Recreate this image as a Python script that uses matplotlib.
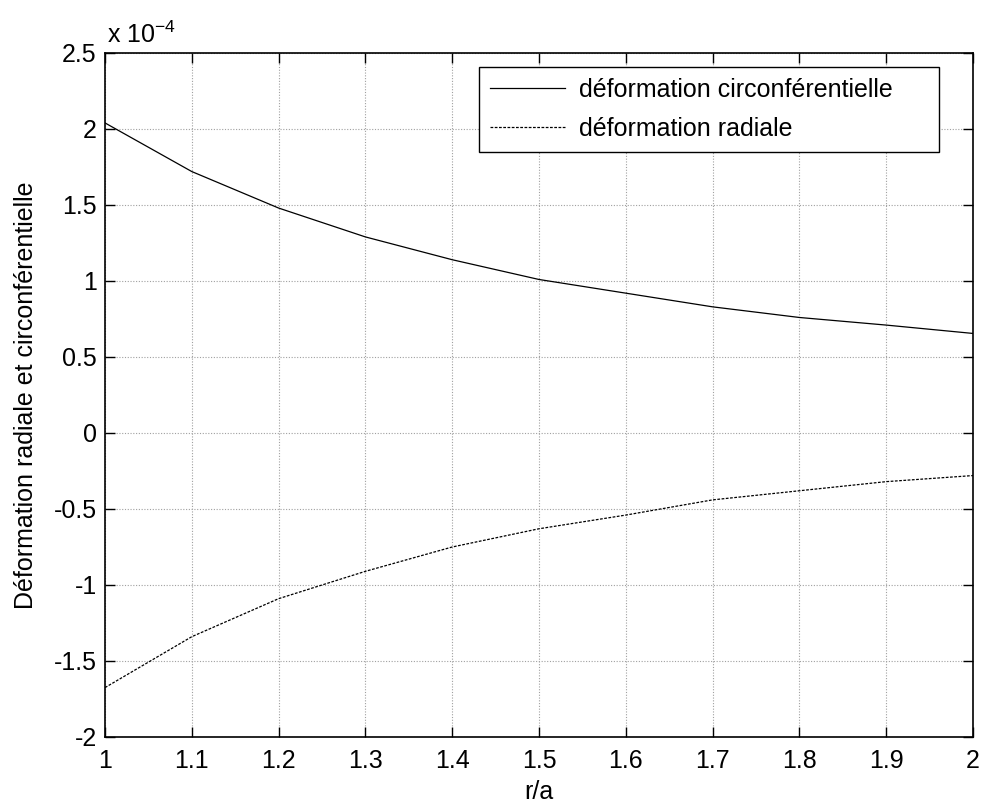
import matplotlib.pyplot as plt
import numpy as np

plt.rcParams['font.family'] = ['Liberation Sans', 'DejaVu Sans']
plt.rcParams['mathtext.fontset'] = 'custom'
plt.rcParams['mathtext.rm'] = 'Liberation Sans'

# r/a positions and strains (units of 1e-4)
r_a = [1.0, 1.1, 1.2, 1.3, 1.4, 1.5, 1.6, 1.7, 1.8, 1.9, 2.0]
circ = [2.04, 1.72, 1.48, 1.29, 1.14, 1.01, 0.92, 0.83, 0.76, 0.71, 0.655]
radial = [-1.675, -1.34, -1.09, -0.91, -0.75, -0.63, -0.54, -0.44, -0.38, -0.32, -0.28]

xticks = [1, 1.1, 1.2, 1.3, 1.4, 1.5, 1.6, 1.7, 1.8, 1.9, 2]
xticklabels = ['1', '1.1', '1.2', '1.3', '1.4', '1.5', '1.6', '1.7', '1.8', '1.9', '2']
yticks = [-2, -1.5, -1, -0.5, 0, 0.5, 1, 1.5, 2, 2.5]
yticklabels = ['-2', '-1.5', '-1', '-0.5', '0', '0.5', '1', '1.5', '2', '2.5']

fs = 18

fig = plt.figure(figsize=(9.84, 8.09), dpi=100)
ax = fig.add_axes([105/984, 1 - 737/809, (973 - 105)/984, (737 - 53)/809])

# trailing spaces mimic MATLAB's wide right padding in the legend box
ax.plot(r_a, circ, color='black', lw=0.9, ls='-', label='déformation circonférentielle     ')
ax.plot(r_a, radial, color='black', lw=0.9, ls=(0, (2.2, 1.2)), label='déformation radiale')

ax.set_xlim(1, 2)
ax.set_ylim(-2, 2.5)
ax.set_xticks(xticks)
ax.set_xticklabels(xticklabels)
ax.set_yticks(yticks)
ax.set_yticklabels(yticklabels)
ax.tick_params(direction='in', length=7, width=1, top=True, right=True, labelsize=fs)
ax.tick_params(axis='x', pad=9)
ax.tick_params(axis='y', pad=6)
ax.grid(True, color='#a0a0a0', ls=(0, (1, 1.5)), lw=0.8)
for s in ax.spines.values():
    s.set_linewidth(1.2)

ax.set_xlabel('r/a', fontsize=fs, labelpad=5)
ax.set_ylabel('Déformation radiale et circonférentielle', fontsize=fs, labelpad=11)

ax.text(0.002, 1.008, r'x 10$^{\mathregular{-4}}$', transform=ax.transAxes,
        fontsize=fs, ha='left', va='bottom')

leg = ax.legend(loc='upper right', bbox_to_anchor=(0.9608, 0.98), fontsize=fs,
                frameon=True, fancybox=False, edgecolor='black', framealpha=1,
                handlelength=3.0, handletextpad=0.55, borderpad=0.45, labelspacing=0.6,
                borderaxespad=0)
leg.get_frame().set_linewidth(1.0)

plt.savefig('out.png', dpi=100)
